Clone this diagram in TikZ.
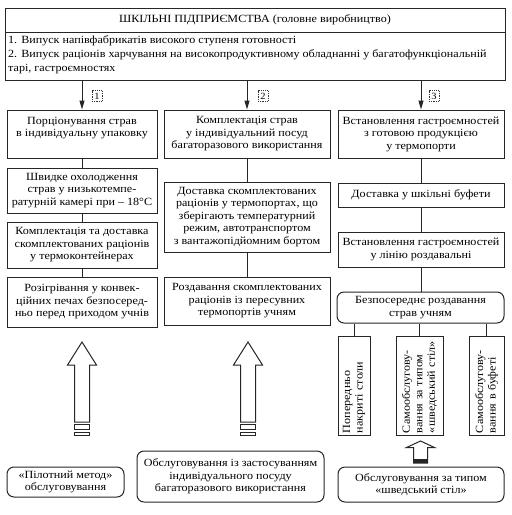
\documentclass[tikz,border=0pt]{standalone}
\usepackage{fontspec}
\setmainfont{Liberation Serif}[FakeStretch=1.1]
\usetikzlibrary{arrows.meta}
\newcommand{\bxfont}{\fontsize{11}{12.5}\selectfont}
\begin{document}
\begin{tikzpicture}[x=1pt,y=-1pt,
  box/.style={draw=black!85, line width=1pt, align=center, inner sep=1pt, font=\bxfont},
  rbox/.style={box, rounded corners=7pt},
  vbox/.style={box, rotate=90, align=left},
  numbox/.style={draw=black!80, densely dotted, line width=0.8pt, minimum width=10pt, minimum height=11pt, inner sep=0.5pt, font=\fontsize{9.5}{10}\selectfont},
  link/.style={draw=black!85, line width=1pt},
  arr/.style={link, -{Triangle[length=9pt,width=5pt]}},
  hollow/.style={draw=black!85, line width=1pt, fill=white}
]
\useasboundingbox (0,0) rectangle (512,515);

% top block
\node[draw=black!85, line width=1pt, minimum width=500pt, minimum height=72pt, inner sep=0pt] (top) at (255,44) {};
\coordinate (dl) at (5,32);
\coordinate (dr) at (505,32);
\draw[link] (dl) -- (dr);
\node[font=\fontsize{11}{12.5}\selectfont] (title) at (255,20) {ШКІЛЬНІ ПІДПРИЄМСТВА (головне виробництво)};
\node[anchor=north west, align=left, inner sep=0pt, font=\fontsize{11}{14}\selectfont] (list) at (8,35.5)
 {1. Випуск напівфабрикатів високого ступеня готовності\\
  2. Випуск раціонів харчування на високопродуктивному обладнанні у багатофункціональній\\
  тарі, гастроємностях};

% column 1
\node[box, minimum width=150pt, minimum height=48pt] (a1) at (82,134) {Порціонування страв\\в індивідуальну упаковку\\[1.5pt]~};
\node[box, minimum width=150pt, minimum height=45pt] (a2) at (82,190.5) {Швидке охолодження\\страв у низькотемпе-\\ратурній камері при – 18°C};
\node[box, minimum width=150pt, minimum height=46pt] (a3) at (82,245) {Комплектація та доставка\\скомплектованих раціонів\\у термоконтейнерах};
\node[box, minimum width=150pt, minimum height=50pt] (a4) at (82,302) {Розігрівання у конвек-\\ційних печах безпосеред-\\ньо перед приходом учнів};

% column 2
\node[box, minimum width=166pt, minimum height=48pt] (b1) at (247,134) {Комплектація страв\\у індивідуальний посуд\\багаторазового використання};
\node[box, minimum width=166pt, minimum height=70pt] (b2) at (247,217) {Доставка скомплектованих\\раціонів у термопортах, що\\зберігають температурний\\режим, автотранспортом\\з вантажопідйомним бортом};
\node[box, minimum width=166pt, minimum height=48pt] (b3) at (247,301) {Роздавання скомплектованих\\раціонів із пересувних\\термопортів учням};

% column 3
\node[box, minimum width=166pt, minimum height=48pt] (c1) at (421,134) {Встановлення гастроємностей\\з готовою продукцією\\у термопорти};
\node[box, minimum width=166pt, minimum height=24pt] (c2) at (421,195) {Доставка у шкільні буфети};
\node[box, minimum width=166pt, minimum height=35pt] (c3) at (421,249.5) {Встановлення гастроємностей\\у лінію роздавальні};
\node[rbox, minimum width=167pt, minimum height=31pt] (c4) at (420.5,307.5) {Безпосереднє роздавання\\страв учням};

\node[vbox, minimum width=99pt, minimum height=32pt, text width=95pt] (v1) at (354,385.5) {Попередньо\\накриті столи};
\node[vbox, minimum width=99pt, minimum height=47pt, text width=95pt] (v2) at (419.5,385.5) {Самообслугову-\\вання за типом\\«шведський стіл»};
\node[vbox, minimum width=99pt, minimum height=35pt, text width=95pt] (v3) at (486.5,385.5) {Самообслугову-\\вання в буфеті};

% bottom boxes
\node[rbox, minimum width=117pt, minimum height=30pt] (l) at (65.5,482) {«Пілотний метод»\\обслуговування};
\node[rbox, minimum width=187pt, minimum height=51pt] (m) at (230.5,476.5) {Обслуговування із застосуванням\\індивідуального посуду\\багаторазового використання};
\node[rbox, minimum width=166pt, minimum height=35pt] (r) at (421,484.5) {Обслуговування за типом\\«шведський стіл»};

% arrows from top
\draw[arr] (a1.north |- top.south) -- (a1.north);
\draw[arr] (b1.north |- top.south) -- (b1.north);
\draw[arr] (c1.north |- top.south) -- (c1.north);
\node[numbox] (n1) at (97,96) {1};
\node[numbox] (n2) at (263,96) {2};
\node[numbox] (n3) at (434,96) {3};

% column links
\draw[link] (a1) -- (a2);
\draw[link] (a2) -- (a3);
\draw[link] (a3) -- (a4);
\draw[link] (b1) -- (b2);
\draw[link] (b2) -- (b3);
\draw[link] (c1) -- (c2);
\draw[link] (c2) -- (c3);
\draw[link] (c3.south) -- (c3.south |- c4.north);
\draw[link] (v1.center |- c4.south) -- (v1.east);
\draw[link] (v2.center |- c4.south) -- (v2.east);
\draw[link] (v3.center |- c4.south) -- (v3.east);

% hollow arrows
\foreach \cx in {82,248}{
  \draw[hollow] (\cx,342) -- (\cx+14.5,365) -- (\cx+7.5,365) -- (\cx+7.5,422) -- (\cx-7.5,422) -- (\cx-7.5,365) -- (\cx-14.5,365) -- cycle;
  \draw[hollow] (\cx-7.5,424.5) rectangle (\cx+7.5,429);
  \draw[hollow] (\cx-7.5,432) rectangle (\cx+7.5,435.5);
}
\draw[hollow] (420.5,441) -- (434.5,447.5) -- (427.5,447.5) -- (427.5,463) -- (413.5,463) -- (413.5,447.5) -- (406.5,447.5) -- cycle;
\fill[black!85] (413.5,459) rectangle (427.5,463);
\end{tikzpicture}
\end{document}
